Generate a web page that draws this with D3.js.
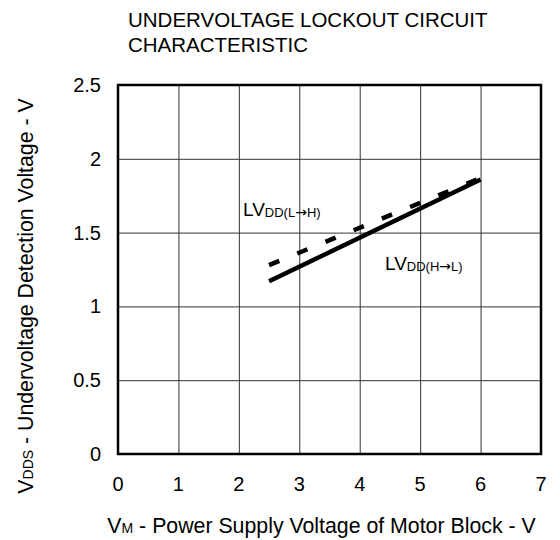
<!DOCTYPE html>
<html>
<head>
<meta charset="utf-8">
<script src="https://cdn.jsdelivr.net/npm/d3@7"></script>
<style>
body { margin: 0; background: #fff; }
svg { font-family: "Liberation Sans", Arial, Helvetica, sans-serif; }
.arrow { font-family: "DejaVu Sans", sans-serif; }
</style>
</head>
<body>
<div id="chart"></div>
<script>
var width = 560;
var height = 540;

// data
var xTicks = [0, 1, 2, 3, 4, 5, 6, 7];
var yTicks = [0, 0.5, 1, 1.5, 2, 2.5];
var yTickLabels = ["0", "0.5", "1", "1.5", "2", "2.5"];
var vm = [2.5, 6];
var lvddLH = [1.28, 1.87];   // dashed
var lvddHL = [1.17, 1.86];   // solid

var svg = d3.select("#chart")
    .append("svg")
    .attr("width", width)
    .attr("height", height);

var x = d3.scaleLinear().domain([0, 7]).range([118, 541]);
var y = d3.scaleLinear().domain([0, 2.5]).range([454, 85]);

// title
svg.append("text")
    .attr("x", 128)
    .attr("y", 27)
    .style("font-size", "20.5px")
    .text("UNDERVOLTAGE LOCKOUT CIRCUIT");
svg.append("text")
    .attr("x", 128)
    .attr("y", 52)
    .style("font-size", "20.5px")
    .text("CHARACTERISTIC");

// grid
svg.append("g")
    .attr("transform", "translate(0," + y(0) + ")")
    .call(d3.axisBottom(x).tickValues(xTicks).tickSize(-(y(0) - y(2.5))).tickFormat(""))
    .call(function(g) { g.select(".domain").remove(); })
    .selectAll("line")
    .attr("stroke", "#333")
    .attr("stroke-width", 1);
svg.append("g")
    .attr("transform", "translate(" + x(0) + ",0)")
    .call(d3.axisLeft(y).tickValues(yTicks).tickSize(-(x(7) - x(0))).tickFormat(""))
    .call(function(g) { g.select(".domain").remove(); })
    .selectAll("line")
    .attr("stroke", "#333")
    .attr("stroke-width", 1);

// frame
svg.append("rect")
    .attr("x", x(0))
    .attr("y", y(2.5))
    .attr("width", x(7) - x(0))
    .attr("height", y(0) - y(2.5))
    .attr("fill", "none")
    .attr("stroke", "#000")
    .attr("stroke-width", 2.5);

// tick labels
svg.selectAll(".xl")
    .data(xTicks)
    .enter().append("text")
    .attr("x", function(d) { return x(d); })
    .attr("y", 491)
    .attr("text-anchor", "middle")
    .style("font-size", "20px")
    .text(function(d) { return d; });
svg.selectAll(".yl")
    .data(yTicks)
    .enter().append("text")
    .attr("x", 101)
    .attr("y", function(d) { return y(d) + 7; })
    .attr("text-anchor", "end")
    .style("font-size", "20px")
    .text(function(d, i) { return yTickLabels[i]; });

// lines
var line = d3.line()
    .x(function(d) { return x(d[0]); })
    .y(function(d) { return y(d[1]); });

svg.append("path")
    .datum(d3.zip(vm, lvddLH))
    .attr("d", line)
    .attr("fill", "none")
    .attr("stroke", "#000")
    .attr("stroke-width", 4.5)
    .attr("stroke-dasharray", "11,19.5");
svg.append("path")
    .datum(d3.zip(vm, lvddHL))
    .attr("d", line)
    .attr("fill", "none")
    .attr("stroke", "#000")
    .attr("stroke-width", 4.5);

// curve labels
function subLabel(px, py, main, a, b) {
    var t = svg.append("text")
        .attr("x", px)
        .attr("y", py)
        .style("font-size", "19px");
    t.append("tspan").text(main);
    t.append("tspan").style("font-size", "13px").attr("dy", 1).text("DD(" + a);
    t.append("tspan").attr("class", "arrow").style("font-size", "14px").text("\u2192");
    t.append("tspan").style("font-size", "13px").text(b + ")");
    return t;
}
subLabel(243, 216, "LV", "L", "H");
subLabel(385, 270, "LV", "H", "L");

// axis titles
var xt = svg.append("text")
    .attr("x", 321.5)
    .attr("y", 533)
    .attr("text-anchor", "middle")
    .style("font-size", "21.3px");
xt.append("tspan").text("V");
xt.append("tspan").style("font-size", "14px").text("M");
xt.append("tspan").text(" - Power Supply Voltage of Motor Block - V");

var yt = svg.append("text")
    .attr("transform", "translate(33,296) rotate(-90)")
    .attr("text-anchor", "middle")
    .style("font-size", "21.3px");
yt.append("tspan").text("V");
yt.append("tspan").style("font-size", "14px").text("DDS");
yt.append("tspan").text(" - Undervoltage Detection Voltage - V");
</script>
</body>
</html>
